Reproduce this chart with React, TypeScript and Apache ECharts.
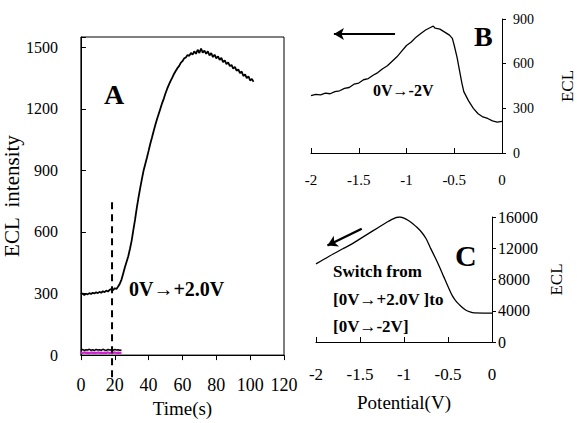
import React, { useEffect, useRef } from "react";
import * as echarts from "echarts";

const FONT = "Liberation Serif, Times New Roman, serif";

// Panel A: ECL intensity vs time
const timeA = [0,1,2,3,4,5,6,7,8,9,10,11,12,13,14,15,16,17,18,19,20,21,22,23,24,25,26,27,28,29,30,31,32,33,34,35,36,37,38,39,40,41,42,43,44,45,46,47,48,49,50,51,52,53,54,55,56,57,58,59,60,61,62,63,64,65,66,67,68,69,70,71,72,73,74,75,76,77,78,79,80,81,82,83,84,85,86,87,88,89,90,91,92,93,94,95,96,97,98,99,100,101,102];
const eclA = [296,300,293,299,296,302,298,304,300,306,302,308,304,311,307,314,310,318,322,316,326,322,334,348,368,398,428,455,482,518,558,610,660,716,766,812,856,898,930,962,995,1030,1060,1092,1122,1150,1176,1202,1228,1250,1276,1298,1318,1336,1352,1370,1384,1398,1408,1424,1432,1446,1450,1462,1458,1472,1464,1480,1468,1488,1472,1494,1474,1484,1468,1480,1460,1472,1452,1464,1446,1456,1438,1448,1428,1436,1418,1426,1408,1414,1396,1404,1386,1392,1374,1382,1360,1368,1350,1358,1338,1346,1332];
const timeBase = [0,1,2,3,4,5,6,7,8,9,10,11,12,13,14,15,16,17,18,19,20,21,22,23,24];
const blackBase = [24,27,23,26,25,28,24,26,23,27,25,26,24,28,25,23,27,25,26,24,27,25,26,24,25];
const pinkBase = [12,10,13,11,12,9,13,11,12,10,13,11,12,10,12,11,13,10,12,11,13,10,12,11,12];
const dashX = [18.4, 18.4];
const dashY = [745, -120];
const xTicksA = { min: 0, max: 120, interval: 20 };
const yTicksA = { min: 0, max: 1550, interval: 300 };

// Panel B: 0V -> -2V
const potB = [-2,-1.95,-1.9,-1.85,-1.8,-1.75,-1.7,-1.65,-1.6,-1.55,-1.5,-1.45,-1.4,-1.35,-1.3,-1.25,-1.2,-1.15,-1.1,-1.05,-1,-0.95,-0.9,-0.85,-0.8,-0.75,-0.72,-0.7,-0.65,-0.6,-0.55,-0.52,-0.5,-0.47,-0.45,-0.42,-0.4,-0.35,-0.3,-0.25,-0.2,-0.15,-0.1,-0.05,0];
const eclB = [385,394,391,402,398,412,418,434,440,462,470,492,500,522,540,566,586,616,646,684,722,746,778,803,826,843,852,838,832,812,792,770,722,640,572,470,412,350,300,264,242,232,216,208,212];

// Panel C: switch from [0V->+2.0V] to [0V->-2V]
const potC = [-2,-1.9,-1.8,-1.7,-1.6,-1.5,-1.4,-1.3,-1.2,-1.1,-1.05,-1,-0.95,-0.9,-0.85,-0.8,-0.75,-0.7,-0.65,-0.6,-0.55,-0.5,-0.45,-0.4,-0.35,-0.3,-0.25,-0.2,-0.1,0];
const eclC = [10000,10650,11300,11900,12500,13200,13900,14600,15300,15900,16000,15850,15550,15150,14650,14050,13250,12050,10900,9700,8400,7100,5900,5100,4550,4100,3850,3720,3700,3700];

const arrowB = [[-1.12, 800], [-1.76, 800]];
const arrowC = [[-1.48, 14500], [-1.87, 12350]];

const zip = (xs: number[], ys: number[]) => xs.map((x, i) => [x, ys[i]]);
const plain = (v: number) => String(v);

export default function App() {
  const ref = useRef<HTMLDivElement>(null);
  useEffect(() => {
    if (!ref.current) return;
    const chart = echarts.init(ref.current, undefined, { renderer: "svg" });
    const black = "#000";
    const axisLine = { show: true, onZero: false, lineStyle: { color: black, width: 1 } };
    const label = (size: number, margin: number, extra: any = {}) => ({
      color: black, fontFamily: FONT, fontSize: size, margin, formatter: plain, ...extra,
    });
    const txt = (text: string, left: number, top: number, size: number) => ({
      type: "text", left, top,
      style: { text, fontFamily: FONT, fontWeight: "bold", fontSize: size, fill: black },
    });
    chart.setOption({
      animation: false,
      backgroundColor: "#fff",
      textStyle: { fontFamily: FONT, color: black },
      grid: [
        { left: 73, top: 37, width: 211, height: 325, show: true, borderColor: black, borderWidth: 1, backgroundColor: "transparent" },
        { left: 311, top: 19, width: 197, height: 134 },
        { left: 316, top: 217, width: 176, height: 125 },
      ],
      xAxis: [
        {
          gridIndex: 0, type: "value", ...xTicksA,
          axisLine, axisTick: { show: true, inside: false, length: 5, lineStyle: { color: black } },
          axisLabel: label(18, 21), splitLine: { show: false },
          name: "Time(s)", nameLocation: "middle", nameGap: 42,
          nameTextStyle: { fontFamily: FONT, fontSize: 19, color: black },
        },
        {
          gridIndex: 1, type: "value", min: -2, max: 0, interval: 0.5,
          axisLine, axisTick: { show: true, inside: true, length: 5, lineStyle: { color: black } },
          axisLabel: label(15, 19), splitLine: { show: false },
        },
        {
          gridIndex: 2, type: "value", min: -2, max: 0, interval: 0.5,
          axisLine, axisTick: { show: true, inside: true, length: 5, lineStyle: { color: black } },
          axisLabel: label(17, 24), splitLine: { show: false },
          name: "Potential(V)", nameLocation: "middle", nameGap: 51,
          nameTextStyle: { fontFamily: FONT, fontSize: 19, color: black },
        },
      ],
      yAxis: [
        {
          gridIndex: 0, type: "value", ...yTicksA,
          axisLine, axisTick: { show: true, inside: true, length: 5, lineStyle: { color: black } },
          axisLabel: label(16, 23, { formatter: (v: number) => (v % 300 === 0 ? String(v) : "") }),
          splitLine: { show: false },
          name: "ECL  intensity", nameLocation: "middle", nameGap: 48,
          nameTextStyle: { fontFamily: FONT, fontSize: 21, color: black },
        },
        {
          gridIndex: 1, type: "value", position: "right", min: 0, max: 900, interval: 300,
          axisLine, axisTick: { show: true, inside: false, length: 4, lineStyle: { color: black } },
          axisLabel: label(14, 11), splitLine: { show: false },
          name: "ECL", nameLocation: "middle", nameGap: 57,
          nameTextStyle: { fontFamily: FONT, fontSize: 17, color: black },
        },
        {
          gridIndex: 2, type: "value", position: "right", min: 0, max: 16000, interval: 4000,
          axisLine, axisTick: { show: true, inside: false, length: 4, lineStyle: { color: black } },
          axisLabel: label(16, 6), splitLine: { show: false },
          name: "ECL", nameLocation: "middle", nameGap: 56,
          nameTextStyle: { fontFamily: FONT, fontSize: 17, color: black },
        },
      ],
      series: [
        {
          type: "line", xAxisIndex: 0, yAxisIndex: 0, data: zip(timeA, eclA),
          showSymbol: false, lineStyle: { color: black, width: 1.8 }, silent: true,
        },
        {
          type: "line", xAxisIndex: 0, yAxisIndex: 0, data: zip(timeBase, pinkBase),
          showSymbol: false, lineStyle: { color: "#d21fd2", width: 2.2 }, silent: true,
        },
        {
          type: "line", xAxisIndex: 0, yAxisIndex: 0, data: zip(timeBase, blackBase),
          showSymbol: false, lineStyle: { color: black, width: 1.6 }, silent: true,
        },
        {
          type: "line", xAxisIndex: 0, yAxisIndex: 0, data: zip(dashX, dashY), clip: false,
          showSymbol: false, lineStyle: { color: black, width: 2, type: [7, 5] }, silent: true,
        },
        {
          type: "line", xAxisIndex: 1, yAxisIndex: 1, data: zip(potB, eclB),
          showSymbol: false, lineStyle: { color: black, width: 1.3 }, silent: true,
          markLine: {
            silent: true, symbol: ["none", "arrow"], symbolSize: [9, 10], label: { show: false },
            lineStyle: { color: black, width: 2, type: "solid" },
            data: [[{ coord: arrowB[0] }, { coord: arrowB[1] }]],
          },
        },
        {
          type: "line", xAxisIndex: 2, yAxisIndex: 2, data: zip(potC, eclC), smooth: 0.3,
          showSymbol: false, lineStyle: { color: black, width: 1.3 }, silent: true,
          markLine: {
            silent: true, symbol: ["none", "arrow"], symbolSize: [9, 10], label: { show: false },
            lineStyle: { color: black, width: 2.4, type: "solid" },
            data: [[{ coord: arrowC[0] }, { coord: arrowC[1] }]],
          },
        },
      ],
      graphic: [
        txt("A", 104, 80, 28),
        txt("0V→+2.0V", 129, 279, 20),
        txt("B", 474, 22, 28),
        txt("0V→-2V", 373, 82, 16),
        txt("C", 455, 240, 30),
        txt("Switch from", 333, 263, 17),
        txt("[0V→+2.0V ]to", 333, 291, 17),
        txt("[0V→-2V]", 333, 318, 17),
      ],
    });
    return () => chart.dispose();
  }, []);
  return (
    <div
      ref={ref}
      style={{ position: "fixed", left: 0, top: 0, width: 577, height: 423, background: "#fff" }}
    />
  );
}
